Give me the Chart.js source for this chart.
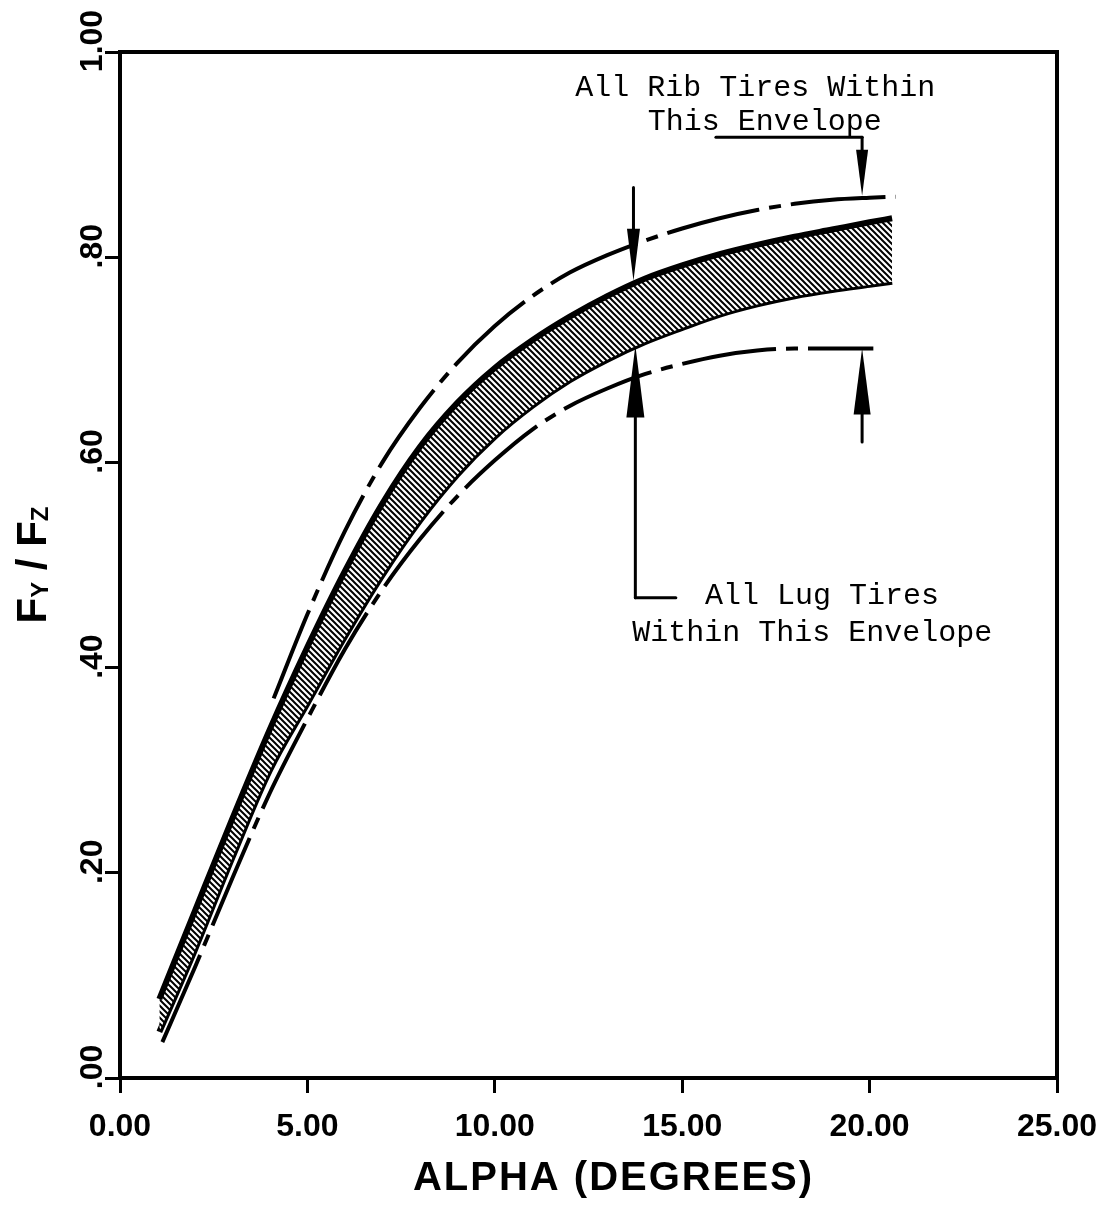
<!DOCTYPE html>
<html lang="en">
<head>
  <meta charset="UTF-8" />
  <title>Side Force Ratio vs Slip Angle</title>
  <script src="https://cdn.jsdelivr.net/npm/chart.js"></script>
  <style>
    html, body { margin: 0; padding: 0; background: #fff; }
    canvas { display: block; }
  </style>
</head>
<body>
  <canvas id="fyChart" width="1101" height="1211"></canvas>

  <script>
    // slip angle (deg) and Fy/Fz for each curve
    const alphaBand = [1.05, 2, 3, 4, 5, 6, 7, 8, 9, 10, 11, 12, 13, 14, 15, 16, 17, 18, 19, 20, 20.6];
    const bandUpper = [0.077, 0.163, 0.253, 0.340, 0.420, 0.494, 0.560, 0.615, 0.658, 0.692, 0.719, 0.742, 0.762, 0.779, 0.792, 0.803, 0.812, 0.820, 0.827, 0.834, 0.838];
    const bandLower = [0.045, 0.125, 0.215, 0.300, 0.365, 0.430, 0.490, 0.543, 0.588, 0.625, 0.655, 0.680, 0.700, 0.717, 0.731, 0.744, 0.754, 0.762, 0.768, 0.773, 0.776];

    const alphaRib = [4.1, 5, 6, 7, 8, 9, 10, 11, 12, 13, 14, 15, 16, 17, 18, 19, 20, 20.7];
    const ribUpper = [0.370, 0.452, 0.533, 0.600, 0.653, 0.697, 0.733, 0.762, 0.785, 0.802, 0.816, 0.828, 0.838, 0.846, 0.852, 0.856, 0.858, 0.859];

    const alphaLug = [1.13, 2, 3, 4, 5, 6, 7, 8, 9, 10, 11, 12, 13, 14, 15, 16, 17, 18, 19, 20.1];
    const lugLower = [0.035, 0.108, 0.195, 0.278, 0.350, 0.418, 0.476, 0.525, 0.567, 0.602, 0.632, 0.655, 0.672, 0.686, 0.696, 0.704, 0.709, 0.711, 0.711, 0.711];

    const xTicks = [0, 5, 10, 15, 20, 25];
    const yTicks = [0, 0.2, 0.4, 0.6, 0.8, 1.0];

    // callouts, in axis units
    const leaders = [
      [[15.9, 0.917], [19.8, 0.917]],
      [[14.83, 0.468], [13.75, 0.468]]
    ];
    const arrows = [
      { x: 13.7, from: 0.868, tip: 0.777, head: 52, w: 13 },
      { x: 19.8, from: 0.917, tip: 0.860, head: 46, w: 12 },
      { x: 13.75, from: 0.468, tip: 0.714, head: 72, w: 18 },
      { x: 19.8, from: 0.620, tip: 0.711, head: 66, w: 17 }
    ];
    const notes = [
      { text: 'All Rib Tires Within', x: 16.95, y: 0.965 },
      { text: 'This Envelope', x: 17.2, y: 0.932 },
      { text: 'All Lug Tires', x: 18.73, y: 0.470 },
      { text: 'Within This Envelope', x: 18.47, y: 0.434 }
    ];

    const pts = (xs, ys) => xs.map((v, i) => ({ x: v, y: ys[i] }));

    // diagonal hatch for the band
    function hatch() {
      const c = document.createElement('canvas');
      c.width = 6; c.height = 6;
      const g = c.getContext('2d');
      g.fillStyle = '#fff';
      g.fillRect(0, 0, 6, 6);
      g.strokeStyle = '#000';
      g.lineWidth = 2;
      g.beginPath();
      g.moveTo(-1, -1); g.lineTo(7, 7);
      g.moveTo(-4, 2); g.lineTo(1, 7);
      g.moveTo(5, -1); g.lineTo(8, 2);
      g.stroke();
      return g.createPattern(c, 'repeat');
    }

    const dashDot = [95, 10, 12, 10];
    const sans = '"Liberation Sans", Arial, sans-serif';

    const frame = {
      id: 'frame',
      afterDraw(chart) {
        const { ctx, chartArea: a } = chart;
        ctx.save();
        ctx.strokeStyle = '#000';
        ctx.lineWidth = 4;
        ctx.beginPath();
        ctx.moveTo(a.left, a.top);
        ctx.lineTo(a.right, a.top);
        ctx.lineTo(a.right, a.bottom);
        ctx.stroke();

        // x axis title, letter-spaced
        ctx.fillStyle = '#000';
        ctx.font = 'bold 40px ' + sans;
        ctx.letterSpacing = '2px';
        ctx.textAlign = 'center';
        ctx.textBaseline = 'middle';
        ctx.fillText('ALPHA (DEGREES)', (a.left + a.right) / 2 + 25, a.bottom + 101);
        ctx.letterSpacing = '0px';

        // y axis title with subscripts
        ctx.translate(32, (a.top + a.bottom) / 2);
        ctx.rotate(-Math.PI / 2);
        ctx.textAlign = 'left';
        ctx.textBaseline = 'alphabetic';
        const big = 'bold 42px ' + sans;
        const small = 'bold 24px ' + sans;
        const parts = [['F', big, 0], ['Y', small, 2], [' / ', big, 0], ['F', big, 0], ['Z', small, 2]];
        let total = 0;
        parts.forEach(p => { ctx.font = p[1]; total += ctx.measureText(p[0]).width; });
        let cx = -total / 2;
        parts.forEach(p => {
          ctx.font = p[1];
          ctx.fillText(p[0], cx, 14 + p[2]);
          cx += ctx.measureText(p[0]).width;
        });
        ctx.restore();
      }
    };

    const callouts = {
      id: 'callouts',
      afterDatasetsDraw(chart) {
        const { ctx, scales: { x, y } } = chart;
        const px = v => x.getPixelForValue(v);
        const py = v => y.getPixelForValue(v);
        ctx.save();
        ctx.strokeStyle = '#000';
        ctx.fillStyle = '#000';
        ctx.lineWidth = 3;
        ctx.lineCap = 'round';
        leaders.forEach(seg => {
          ctx.beginPath();
          ctx.moveTo(px(seg[0][0]), py(seg[0][1]));
          ctx.lineTo(px(seg[1][0]), py(seg[1][1]));
          ctx.stroke();
        });
        arrows.forEach(a => {
          const ax = px(a.x), y0 = py(a.from), yt = py(a.tip);
          const dir = Math.sign(yt - y0);
          const base = yt - dir * a.head;
          ctx.beginPath();
          ctx.moveTo(ax, y0);
          ctx.lineTo(ax, base);
          ctx.stroke();
          ctx.beginPath();
          ctx.moveTo(ax - a.w / 2, base);
          ctx.lineTo(ax + a.w / 2, base);
          ctx.lineTo(ax, yt);
          ctx.closePath();
          ctx.fill();
        });
        ctx.font = '30px "Liberation Mono", "Courier New", monospace';
        ctx.textAlign = 'center';
        ctx.textBaseline = 'middle';
        notes.forEach(n => ctx.fillText(n.text, px(n.x), py(n.y)));
        ctx.restore();
      }
    };

    const ctx = document.getElementById('fyChart').getContext('2d');

    new Chart(ctx, {
      type: 'line',
      data: {
        datasets: [
          {
            label: 'Rib envelope',
            data: pts(alphaRib, ribUpper),
            borderColor: '#000',
            borderWidth: 4,
            borderDash: dashDot,
            pointRadius: 0,
            fill: false,
            cubicInterpolationMode: 'monotone'
          },
          {
            label: 'Band upper',
            data: pts(alphaBand, bandUpper),
            borderColor: '#000',
            borderWidth: 6,
            backgroundColor: hatch(),
            pointRadius: 0,
            fill: '+1',
            cubicInterpolationMode: 'monotone'
          },
          {
            label: 'Band lower',
            data: pts(alphaBand, bandLower),
            borderColor: '#000',
            borderWidth: 6,
            pointRadius: 0,
            fill: false,
            cubicInterpolationMode: 'monotone'
          },
          {
            label: 'Lug envelope',
            data: pts(alphaLug, lugLower),
            borderColor: '#000',
            borderWidth: 4,
            borderDash: dashDot,
            pointRadius: 0,
            fill: false,
            cubicInterpolationMode: 'monotone'
          }
        ]
      },
      options: {
        responsive: false,
        animation: false,
        devicePixelRatio: 1,
        layout: { padding: { top: 52, right: 44, left: 0, bottom: 0 } },
        plugins: {
          legend: { display: false },
          tooltip: { enabled: false }
        },
        scales: {
          x: {
            type: 'linear',
            min: 0,
            max: 25,
            afterBuildTicks: s => { s.ticks = xTicks.map(v => ({ value: v })); },
            afterFit: s => { s.height = 133; s.paddingLeft = 0; s.paddingRight = 0; },
            grid: { drawOnChartArea: false, drawTicks: true, tickLength: 15, color: '#000', lineWidth: 3 },
            border: { display: true, color: '#000', width: 4 },
            ticks: {
              color: '#000',
              padding: 15,
              maxRotation: 0,
              font: { family: sans, size: 32, weight: 'bold' },
              callback: v => v.toFixed(2)
            }
          },
          y: {
            type: 'linear',
            min: 0,
            max: 1,
            afterBuildTicks: s => { s.ticks = yTicks.map(v => ({ value: v })); },
            afterFit: s => { s.width = 120; s.paddingTop = 0; s.paddingBottom = 0; },
            grid: { drawOnChartArea: false, drawTicks: true, tickLength: 15, color: '#000', lineWidth: 3 },
            border: { display: true, color: '#000', width: 4 },
            ticks: {
              color: '#000',
              padding: -19,
              crossAlign: 'center',
              labelOffset: -11,
              minRotation: 90,
              maxRotation: 90,
              font: { family: sans, size: 32, weight: 'bold' },
              callback: v => v >= 1 ? v.toFixed(2) : v.toFixed(2).replace(/^0/, '')
            }
          }
        }
      },
      plugins: [frame, callouts]
    });
  </script>
</body>
</html>
